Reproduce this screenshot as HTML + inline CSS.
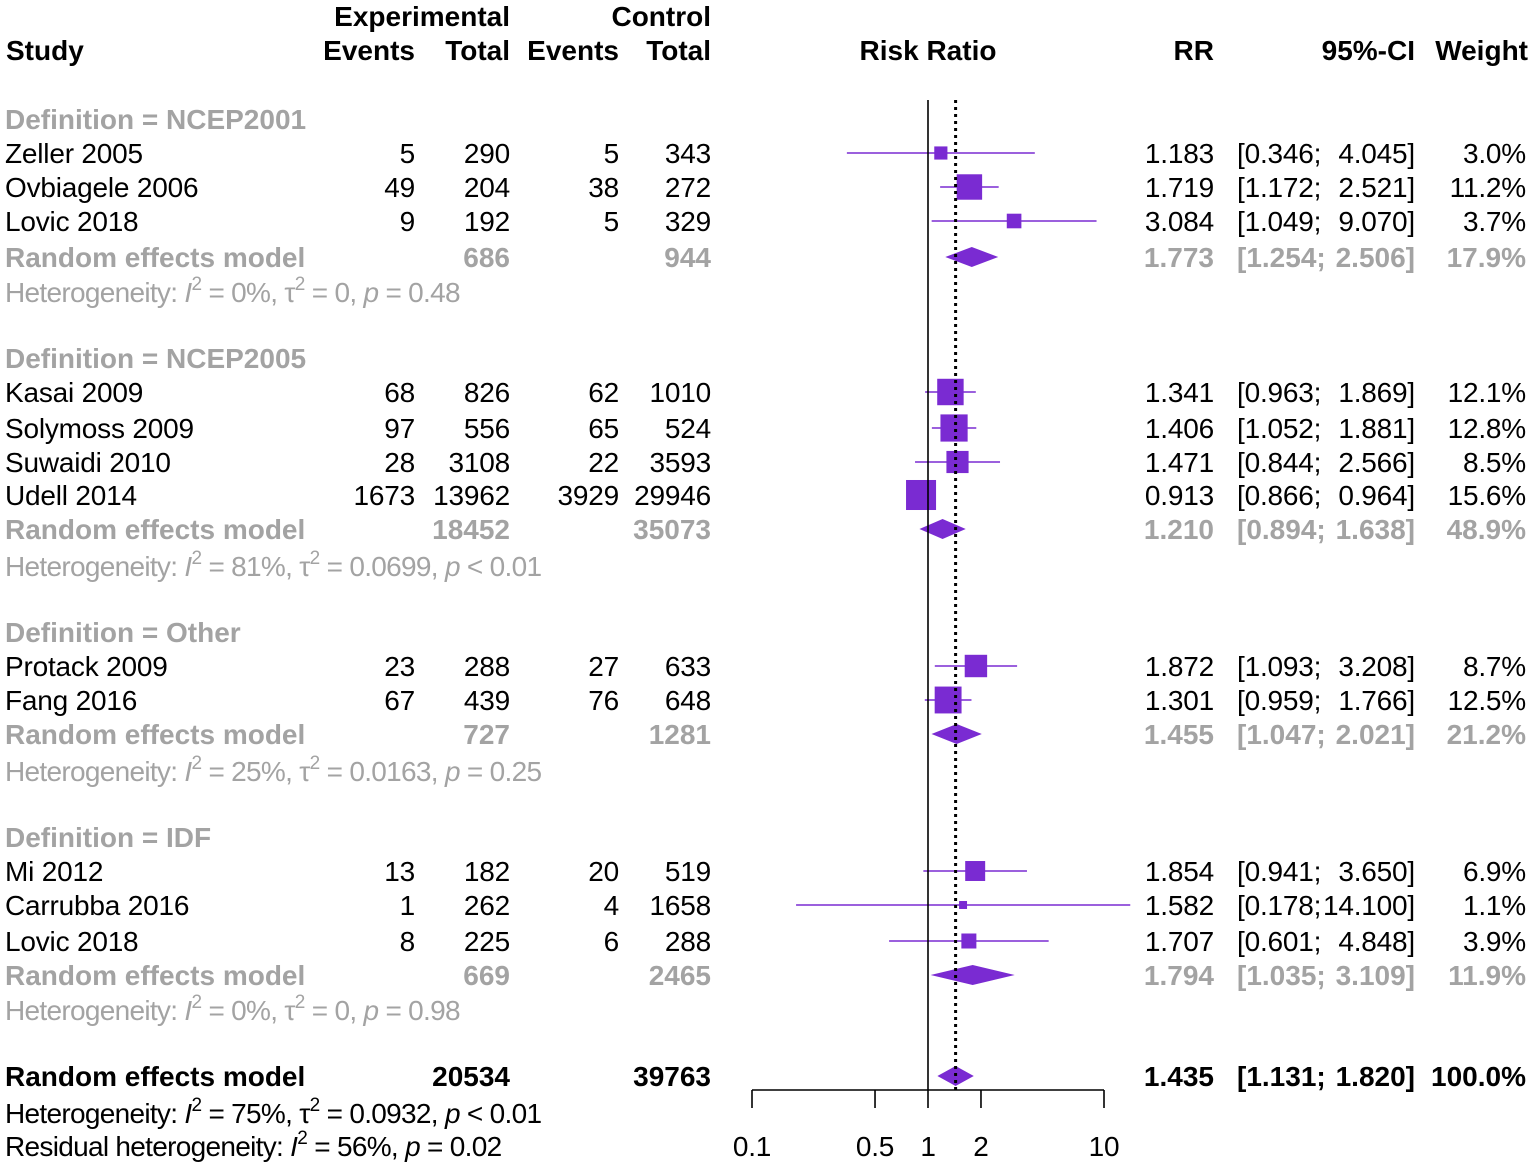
<!DOCTYPE html>
<html><head><meta charset="utf-8"><style>
html,body{margin:0;padding:0;background:#fff}
svg text{font-family:"Liberation Sans",sans-serif;font-size:28px;letter-spacing:-0.2px}
svg text.b{font-weight:bold;letter-spacing:0px}
svg text.h{letter-spacing:-0.7px}
.g{fill:#a3a3a3}
</style></head><body>
<svg id="svg" width="1535" height="1166" viewBox="0 0 1535 1166" xmlns="http://www.w3.org/2000/svg">
<g>
<text class="b" x="510" y="26" text-anchor="end">Experimental</text>
<text class="b" x="711" y="26" text-anchor="end">Control</text>
<text class="b" x="6" y="60">Study</text>
<text class="b" x="415" y="60" text-anchor="end">Events</text>
<text class="b" x="510" y="60" text-anchor="end">Total</text>
<text class="b" x="619" y="60" text-anchor="end">Events</text>
<text class="b" x="711" y="60" text-anchor="end">Total</text>
<text class="b" x="928" y="60" text-anchor="middle">Risk Ratio</text>
<text class="b" x="1214" y="60" text-anchor="end">RR</text>
<text class="b" x="1415" y="60" text-anchor="end">95%-CI</text>
<text class="b" x="1528" y="60" text-anchor="end">Weight</text>
</g>
<g id="rows"></g>
<g id="plot"></g>
</svg>
<script>
// row types: h=group heading, s=study, m=subgroup model, t=heterogeneity, o=overall
const rowType = ['h','s','s','s','m','t','h','s','s','s','s','m','t','h','s','s','m','t','h','s','s','s','m','t','o','t','t'];
const rowY = [119,153,187,221,257,292,358,392,428,462,495,529,566,632,666,700,734,771,837,871,905,941,975,1010,1076,1113,1146];
const labels = ['Definition = NCEP2001','Zeller 2005','Ovbiagele 2006','Lovic 2018','Random effects model','0%|0|= 0.48',
'Definition = NCEP2005','Kasai 2009','Solymoss 2009','Suwaidi 2010','Udell 2014','Random effects model','81%|0.0699|< 0.01',
'Definition = Other','Protack 2009','Fang 2016','Random effects model','25%|0.0163|= 0.25',
'Definition = IDF','Mi 2012','Carrubba 2016','Lovic 2018','Random effects model','0%|0|= 0.98',
'Random effects model','75%|0.0932|< 0.01','RES'];
const expEvents = [null,5,49,9,null,null,null,68,97,28,1673,null,null,null,23,67,null,null,null,13,1,8,null,null,null,null,null];
const expTotal = [null,290,204,192,686,null,null,826,556,3108,13962,18452,null,null,288,439,727,null,null,182,262,225,669,null,20534,null,null];
const ctlEvents = [null,5,38,5,null,null,null,62,65,22,3929,null,null,null,27,76,null,null,null,20,4,6,null,null,null,null,null];
const ctlTotal = [null,343,272,329,944,null,null,1010,524,3593,29946,35073,null,null,633,648,1281,null,null,519,1658,288,2465,null,39763,null,null];
const rr = [null,1.183,1.719,3.084,1.773,null,null,1.341,1.406,1.471,0.913,1.210,null,null,1.872,1.301,1.455,null,null,1.854,1.582,1.707,1.794,null,1.435,null,null];
const lo = [null,0.346,1.172,1.049,1.254,null,null,0.963,1.052,0.844,0.866,0.894,null,null,1.093,0.959,1.047,null,null,0.941,0.178,0.601,1.035,null,1.131,null,null];
const hi = [null,4.045,2.521,9.070,2.506,null,null,1.869,1.881,2.566,0.964,1.638,null,null,3.208,1.766,2.021,null,null,3.650,14.100,4.848,3.109,null,1.820,null,null];
const weight = [null,3.0,11.2,3.7,17.9,null,null,12.1,12.8,8.5,15.6,48.9,null,null,8.7,12.5,21.2,null,null,6.9,1.1,3.9,11.9,null,100.0,null,null];
const tickVals = [0.1,0.5,1,2,10];
const tickLabels = ['0.1','0.5','1','2','10'];
const overallRR = 1.435;

const NS='http://www.w3.org/2000/svg';
const X0=928, PX=176, PURPLE='#7a2bd2';
const xs = v => X0 + PX*Math.log10(v);
function el(tag, attrs, parent, txt){
  const e=document.createElementNS(NS,tag);
  for(const k in attrs) e.setAttribute(k,attrs[k]);
  if(txt!=null) e.textContent=txt;
  parent.appendChild(e); return e;
}
const rows=document.getElementById('rows'), plot=document.getElementById('plot');
function txt(x,y,s,cls,anchor){
  const t=el('text',{x:x,y:y+10,'class':cls||'','text-anchor':anchor||'start'},rows,s);
  return t;
}
function het(y, i2, tau, p, cls){
  const t=el('text',{x:5,y:y+10,'class':'h '+cls},rows);
  
  
  el('tspan',{},t,'Heterogeneity: ');
  el('tspan',{'font-style':'italic'},t,'I');
  el('tspan',{dy:-12,'font-size':'19'},t,'2');
  el('tspan',{dy:12},t,' = '+i2+', \u03c4');
  el('tspan',{dy:-12,'font-size':'19'},t,'2');
  el('tspan',{dy:12},t,' = '+tau+', ');
  el('tspan',{'font-style':'italic'},t,'p');
  el('tspan',{},t,' '+p);
}
function fmt(v){return v.toFixed(3);}
for(let i=0;i<rowType.length;i++){
  const y=rowY[i], tp=rowType[i];
  if(tp==='h'){const t=txt(5,y,labels[i],'b g');
    continue;}
  if(tp==='t'){
    if(labels[i]==='RES'){
      const t=el('text',{x:5,y:y+10,'class':'h'},rows);
      
      
      el('tspan',{},t,'Residual heterogeneity: ');
      el('tspan',{'font-style':'italic'},t,'I');
      el('tspan',{dy:-12,'font-size':'19'},t,'2');
      el('tspan',{dy:12},t,' = 56%, ');
      el('tspan',{'font-style':'italic'},t,'p');
      el('tspan',{},t,' = 0.02');
    } else {
      const p=labels[i].split('|');
      het(y,p[0],p[1],p[2], i===25?'':'g');
    }
    continue;
  }
  const cls = tp==='s'?'':(tp==='m'?'b g':'b');
  const nm=txt(5,y,labels[i],cls);
  
  
  if(expEvents[i]!=null) txt(415,y,String(expEvents[i]),cls,'end');
  if(expTotal[i]!=null) txt(510,y,String(expTotal[i]),cls,'end');
  if(ctlEvents[i]!=null) txt(619,y,String(ctlEvents[i]),cls,'end');
  if(ctlTotal[i]!=null) txt(711,y,String(ctlTotal[i]),cls,'end');
  txt(1214,y,fmt(rr[i]),cls,'end');
  txt(1237,y,'['+fmt(lo[i])+';',cls,'start');
  txt(1415,y,fmt(hi[i])+']',cls,'end');
  txt(1526,y,weight[i].toFixed(1)+'%',cls,'end');
  if(tp==='s'){
    const ln=el('line',{x1:xs(lo[i]),x2:xs(hi[i]),y1:y,y2:y,stroke:PURPLE,'stroke-width':1.6},plot);
    
    
    const s=7.6*Math.sqrt(weight[i]);
    const r=el('rect',{x:xs(rr[i])-s/2,y:y-s/2,width:s,height:s,fill:PURPLE},plot);
    
    
  } else {
    const d=el('polygon',{points:`${xs(lo[i])},${y} ${xs(rr[i])},${y-10} ${xs(hi[i])},${y} ${xs(rr[i])},${y+10}`,fill:PURPLE},plot);
    
    
  }
}
const nl=el('line',{x1:X0,x2:X0,y1:100,y2:1090,stroke:'#000','stroke-width':1.6},plot);


const ol=el('line',{x1:xs(overallRR),x2:xs(overallRR),y1:100,y2:1090,stroke:'#000','stroke-width':3,'stroke-dasharray':'3 4'},plot);


const ax=el('line',{x1:xs(tickVals[0]),x2:xs(tickVals[tickVals.length-1]),y1:1090,y2:1090,stroke:'#000','stroke-width':1.6},plot);


tickVals.forEach((v,k)=>{
  const t=el('line',{x1:xs(v),x2:xs(v),y1:1090,y2:1108,stroke:'#000','stroke-width':1.6},plot);
  
  
  const l=el('text',{x:xs(v),y:1156,'text-anchor':'middle'},plot,tickLabels[k]);
  
  
});
</script>
</body></html>
